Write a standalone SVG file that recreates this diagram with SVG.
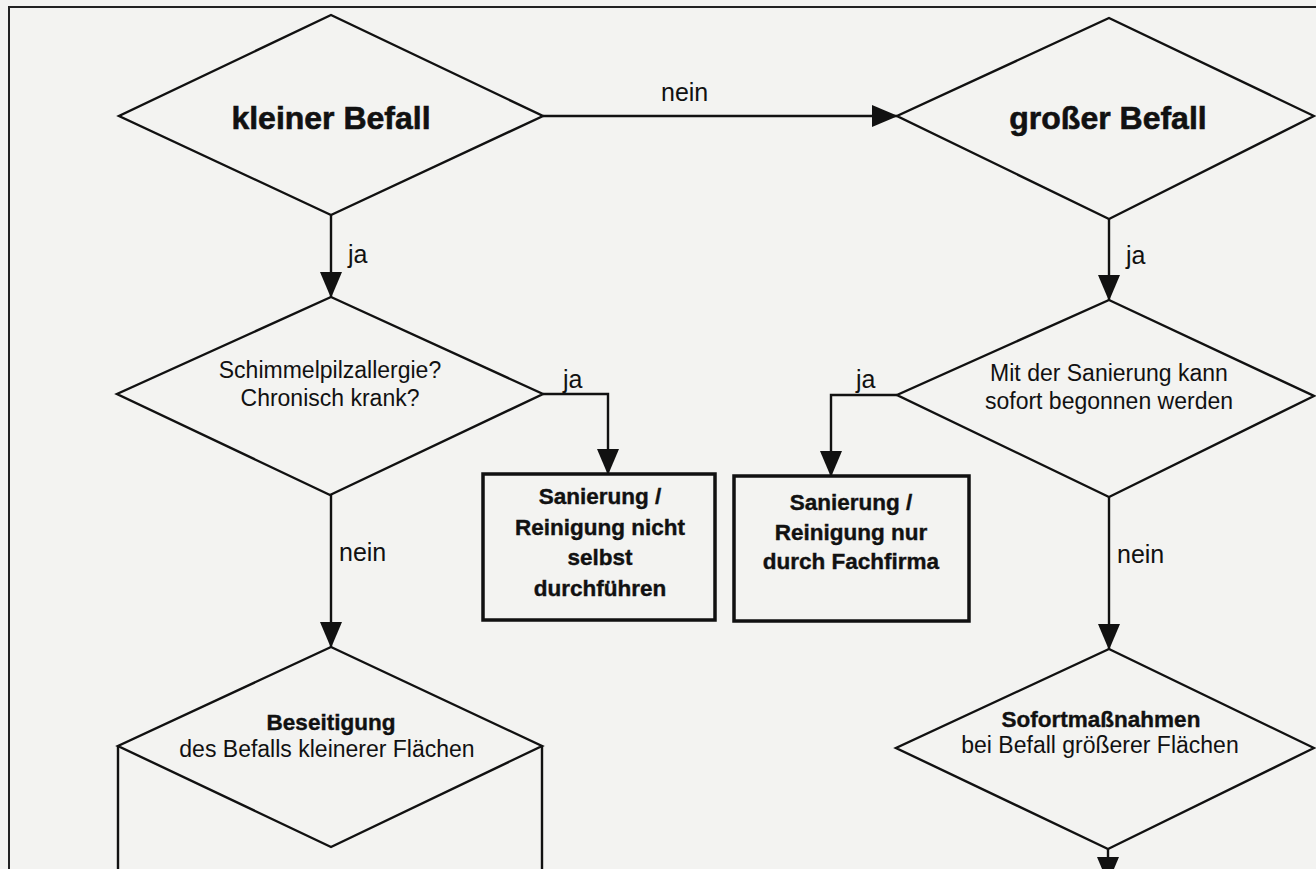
<svg xmlns="http://www.w3.org/2000/svg" width="1316" height="869" viewBox="0 0 1316 869">
<defs>
<marker id="arr" markerUnits="userSpaceOnUse" markerWidth="26" markerHeight="22" refX="25" refY="11" orient="auto">
<path d="M0,0 L26,11 L0,22 z" fill="#111"/>
</marker>
<style>
.bg{fill:#f3f3f1}
.dia{fill:none;stroke:#111;stroke-width:2.4;stroke-linejoin:miter}
.box{fill:none;stroke:#111;stroke-width:3.5}
.frame{fill:none;stroke:#222;stroke-width:2}
.con{fill:none;stroke:#111;stroke-width:2.4}
text{font-family:"Liberation Sans",Arial,sans-serif;fill:#111;text-anchor:middle}
.h1{font-size:32px;font-weight:bold;stroke:#111;stroke-width:0.6}
.b{font-size:22.5px;font-weight:bold;stroke:#111;stroke-width:0.4}
.r{font-size:23px}
.lbl{font-size:25px;text-anchor:start}
</style>
</defs>
<rect class="bg" x="0" y="0" width="1316" height="869"/>
<path class="frame" d="M9,869 L9,7 L1316,7"/>

<g id="connectors">
<path class="con" d="M543,116 L897,116" marker-end="url(#arr)"/>
<text class="lbl" x="661" y="101">nein</text>
<path class="con" d="M331,215 L331,297" marker-end="url(#arr)"/>
<text class="lbl" x="348" y="263">ja</text>
<path class="con" d="M1109,219 L1109,300" marker-end="url(#arr)"/>
<text class="lbl" x="1126" y="264">ja</text>
<path class="con" d="M543,394 L608,394 L608,474" marker-end="url(#arr)"/>
<text class="lbl" x="563" y="388">ja</text>
<path class="con" d="M897,395 L831,395 L831,476" marker-end="url(#arr)"/>
<text class="lbl" x="856" y="388">ja</text>
<path class="con" d="M331,495 L331,647" marker-end="url(#arr)"/>
<text class="lbl" x="339" y="561">nein</text>
<path class="con" d="M1109,497 L1109,649" marker-end="url(#arr)"/>
<text class="lbl" x="1117" y="563">nein</text>
<path class="con" d="M1108,849 L1108,882" marker-end="url(#arr)"/>
</g>

<g id="n1">
<polygon class="dia" points="331,15 543,116 331,215 119,116"/>
<text class="h1" x="331" y="129">kleiner Befall</text>
</g>
<g id="n2">
<polygon class="dia" points="1109,18 1314,116 1109,219 897,116"/>
<text class="h1" x="1108" y="129">großer Befall</text>
</g>
<g id="n3">
<polygon class="dia" points="331,297 543,394 330,495 117,394"/>
<text class="r" x="330" y="378">Schimmelpilzallergie?</text>
<text class="r" x="330" y="406">Chronisch krank?</text>
</g>
<g id="n4">
<polygon class="dia" points="1109,300 1314,396 1109,497 897,395"/>
<text class="r" x="1109" y="381">Mit der Sanierung kann</text>
<text class="r" x="1109" y="409">sofort begonnen werden</text>
</g>
<g id="n5">
<rect class="box" x="483" y="474" width="232" height="146"/>
<text class="b" x="600" y="504">Sanierung /</text>
<text class="b" x="600" y="535">Reinigung nicht</text>
<text class="b" x="600" y="565">selbst</text>
<text class="b" x="600" y="596">durchführen</text>
</g>
<g id="n6">
<rect class="box" x="734" y="476" width="235" height="145"/>
<text class="b" x="851" y="510">Sanierung /</text>
<text class="b" x="851" y="540">Reinigung nur</text>
<text class="b" x="851" y="569">durch Fachfirma</text>
</g>
<g id="n7">
<polygon class="dia" points="331,647 542,746 331,847 118,746"/>
<path class="dia" d="M118,746 L118,869 M542,746 L542,869"/>
<text class="b" x="331" y="730">Beseitigung</text>
<text class="r" x="327" y="757">des Befalls kleinerer Flächen</text>
</g>
<g id="n8">
<polygon class="dia" points="1109,649 1314,748 1108,849 896,748"/>
<text class="b" x="1101" y="727">Sofortmaßnahmen</text>
<text class="r" x="1100" y="753">bei Befall größerer Flächen</text>
</g>
</svg>
